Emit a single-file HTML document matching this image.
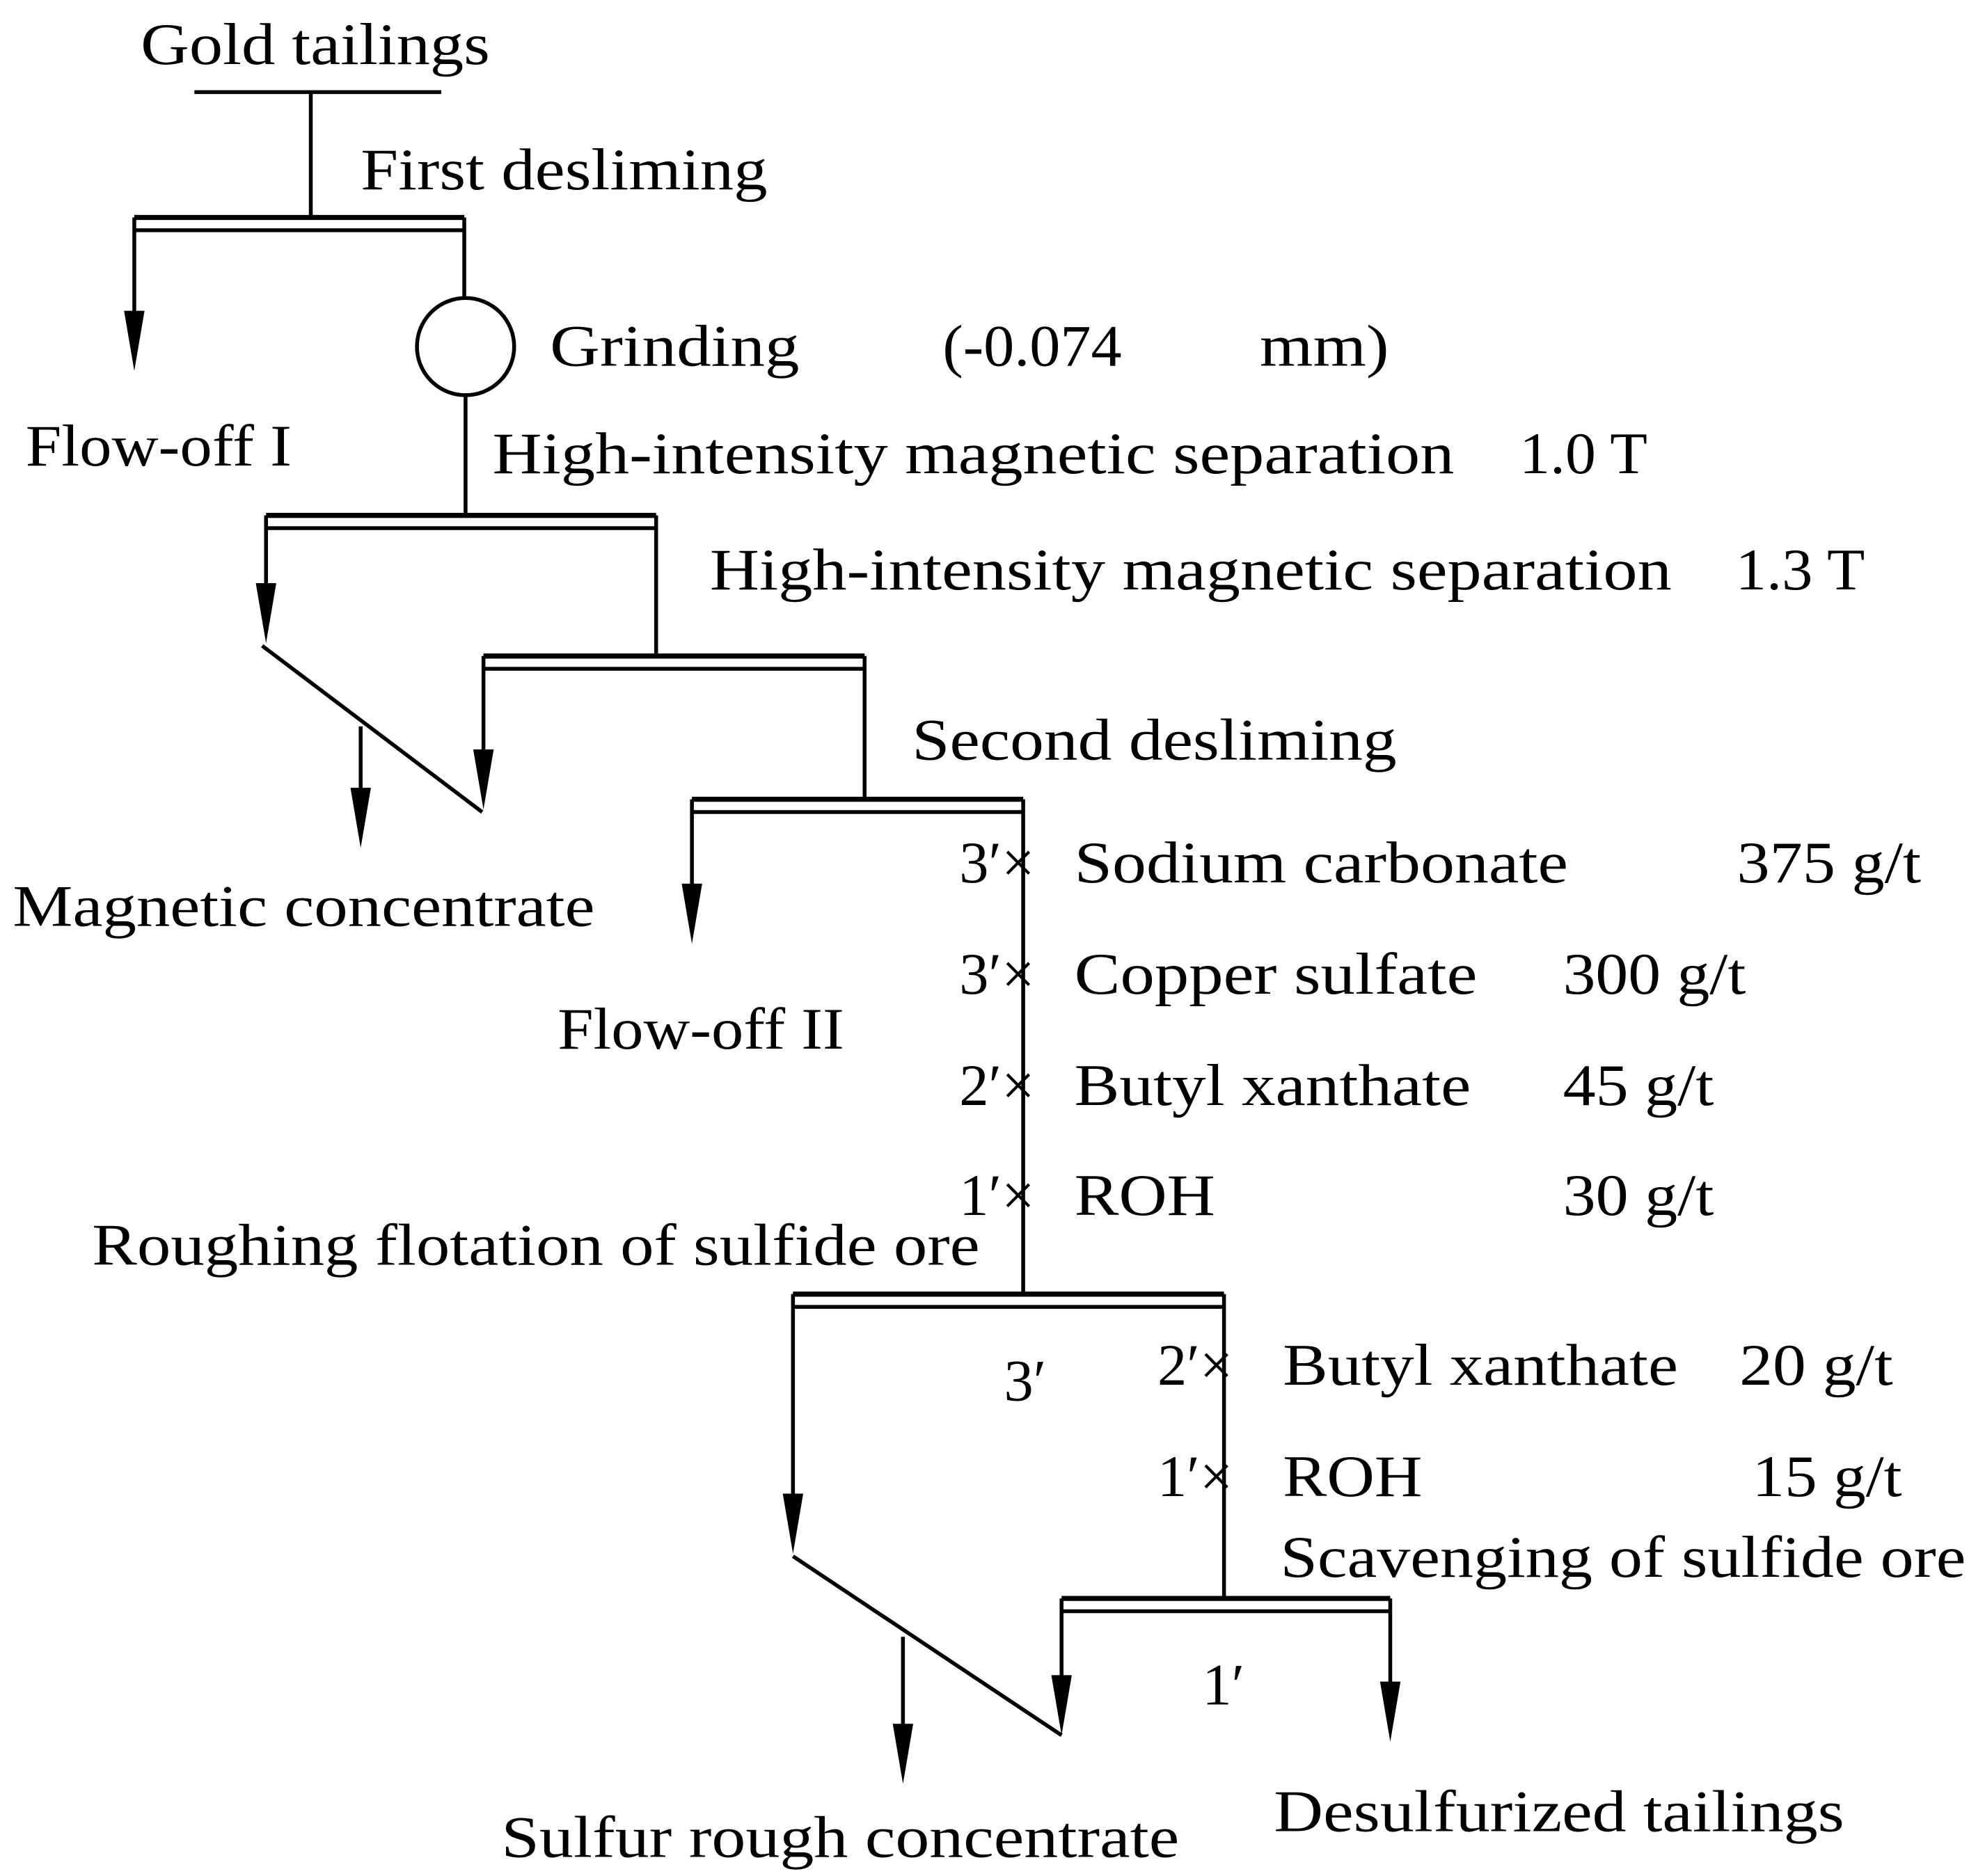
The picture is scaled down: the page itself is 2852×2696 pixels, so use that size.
<!DOCTYPE html>
<html><head><meta charset="utf-8"><style>
html,body{margin:0;padding:0;background:#fff;}
svg{display:block;}
text{font-family:"Liberation Serif",serif;font-size:46px;fill:#000;}
</style></head><body>
<svg width="2852" height="2696" viewBox="0 0 1552 1467" xmlns="http://www.w3.org/2000/svg">
<defs>
<marker id="a" markerWidth="16" markerHeight="46" refX="8" refY="46" orient="auto" markerUnits="userSpaceOnUse" viewBox="0 0 16 46">
</marker>
</defs>
<g stroke="#000" stroke-width="3" fill="none">
<line x1="152" y1="72" x2="345" y2="72"/>
<line x1="243" y1="72" x2="243" y2="170"/>
<!-- bar1 -->
<line x1="105" y1="170" x2="363" y2="170" stroke-width="4"/>
<line x1="105" y1="180" x2="363" y2="180"/>
<line x1="105" y1="170" x2="105" y2="250"/>
<line x1="363" y1="170" x2="363" y2="233"/>
<circle cx="364" cy="271" r="38"/>
<line x1="364" y1="309" x2="364" y2="403"/>
<!-- bar2 -->
<line x1="208" y1="403" x2="513" y2="403" stroke-width="4"/>
<line x1="208" y1="413" x2="513" y2="413"/>
<line x1="208" y1="403" x2="208" y2="460"/>
<line x1="513" y1="403" x2="513" y2="513"/>
<line x1="205" y1="505" x2="377" y2="635"/>
<line x1="282" y1="568" x2="282" y2="625"/>
<!-- bar3 -->
<line x1="378" y1="513" x2="676" y2="513" stroke-width="4"/>
<line x1="378" y1="523" x2="676" y2="523"/>
<line x1="378" y1="513" x2="378" y2="595"/>
<line x1="676" y1="513" x2="676" y2="625"/>
<!-- bar4 -->
<line x1="541" y1="625" x2="800" y2="625" stroke-width="4"/>
<line x1="541" y1="635" x2="800" y2="635"/>
<line x1="541" y1="625" x2="541" y2="700"/>
<line x1="800" y1="625" x2="800" y2="1012"/>
<!-- bar5 -->
<line x1="620" y1="1012" x2="957" y2="1012" stroke-width="4"/>
<line x1="620" y1="1022" x2="957" y2="1022"/>
<line x1="620" y1="1012" x2="620" y2="1175"/>
<line x1="957" y1="1012" x2="957" y2="1250"/>
<line x1="620" y1="1217" x2="830" y2="1357"/>
<line x1="706" y1="1280" x2="706" y2="1355"/>
<!-- bar6 -->
<line x1="830" y1="1250" x2="1087" y2="1250" stroke-width="4"/>
<line x1="830" y1="1260" x2="1087" y2="1260"/>
<line x1="830" y1="1250" x2="830" y2="1320"/>
<line x1="1087" y1="1250" x2="1087" y2="1320"/>
</g>
<g fill="#000">
<polygon points="97,243 113,243 105,290"/>
<polygon points="200,456 216,456 208,503"/>
<polygon points="274,616 290,616 282,663"/>
<polygon points="370,586 386,586 378,633"/>
<polygon points="533,691 549,691 541,738"/>
<polygon points="612,1168 628,1168 620,1215"/>
<polygon points="698,1348 714,1348 706,1395"/>
<polygon points="822,1310 838,1310 830,1357"/>
<polygon points="1079,1315 1095,1315 1087,1362"/>
</g>
<g>
<text x="110" y="50" textLength="273" lengthAdjust="spacingAndGlyphs">Gold tailings</text>
<text x="282" y="148" textLength="318" lengthAdjust="spacingAndGlyphs">First desliming</text>
<text x="430" y="286" textLength="195" lengthAdjust="spacingAndGlyphs">Grinding</text>
<text x="737" y="286" textLength="140" lengthAdjust="spacingAndGlyphs">(-0.074</text>
<text x="985" y="286" textLength="101" lengthAdjust="spacingAndGlyphs">mm)</text>
<text x="20" y="364" textLength="208" lengthAdjust="spacingAndGlyphs">Flow-off I</text>
<text x="385" y="370" textLength="752" lengthAdjust="spacingAndGlyphs">High-intensity magnetic separation</text>
<text x="1188" y="370" textLength="100" lengthAdjust="spacingAndGlyphs">1.0 T</text>
<text x="555" y="461" textLength="752" lengthAdjust="spacingAndGlyphs">High-intensity magnetic separation</text>
<text x="1357" y="461" textLength="101" lengthAdjust="spacingAndGlyphs">1.3 T</text>
<text x="713" y="594" textLength="379" lengthAdjust="spacingAndGlyphs">Second desliming</text>
<text x="10" y="724" textLength="455" lengthAdjust="spacingAndGlyphs">Magnetic concentrate</text>
<text x="750" y="690">3′×</text>
<text x="840" y="690" textLength="386" lengthAdjust="spacingAndGlyphs">Sodium carbonate</text>
<text x="1358" y="690" textLength="144" lengthAdjust="spacingAndGlyphs">375 g/t</text>
<text x="750" y="777">3′×</text>
<text x="840" y="777" textLength="315" lengthAdjust="spacingAndGlyphs">Copper sulfate</text>
<text x="1222" y="777" textLength="143" lengthAdjust="spacingAndGlyphs">300 g/t</text>
<text x="436" y="820" textLength="224" lengthAdjust="spacingAndGlyphs">Flow-off II</text>
<text x="750" y="864">2′×</text>
<text x="840" y="864" textLength="310" lengthAdjust="spacingAndGlyphs">Butyl xanthate</text>
<text x="1222" y="864" textLength="118" lengthAdjust="spacingAndGlyphs">45 g/t</text>
<text x="750" y="950">1′×</text>
<text x="840" y="950" textLength="110" lengthAdjust="spacingAndGlyphs">ROH</text>
<text x="1222" y="950" textLength="118" lengthAdjust="spacingAndGlyphs">30 g/t</text>
<text x="72" y="989" textLength="694" lengthAdjust="spacingAndGlyphs">Roughing flotation of sulfide ore</text>
<text x="785" y="1095">3′</text>
<text x="905" y="1083">2′×</text>
<text x="1003" y="1083" textLength="309" lengthAdjust="spacingAndGlyphs">Butyl xanthate</text>
<text x="1360" y="1083" textLength="120" lengthAdjust="spacingAndGlyphs">20 g/t</text>
<text x="905" y="1170">1′×</text>
<text x="1003" y="1170" textLength="109" lengthAdjust="spacingAndGlyphs">ROH</text>
<text x="1370" y="1170" textLength="117" lengthAdjust="spacingAndGlyphs">15 g/t</text>
<text x="1001" y="1233" textLength="536" lengthAdjust="spacingAndGlyphs">Scavenging of sulfide ore</text>
<text x="940" y="1333">1′</text>
<text x="392" y="1452" textLength="530" lengthAdjust="spacingAndGlyphs">Sulfur rough concentrate</text>
<text x="996" y="1432" textLength="446" lengthAdjust="spacingAndGlyphs">Desulfurized tailings</text>
</g>
</svg>
</body></html>
